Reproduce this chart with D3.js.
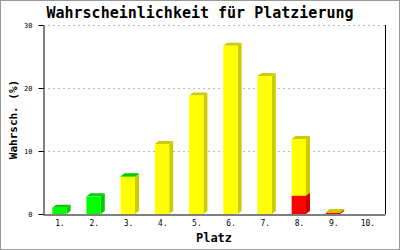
<!DOCTYPE html>
<html>
<head>
<meta charset="utf-8">
<script src="https://cdn.jsdelivr.net/npm/d3@7"></script>
<style>
  body { margin: 0; background: #fff; }
  svg { display: block; }
  .axis text { font-family: "DejaVu Sans Mono", monospace; fill: #000; }
</style>
</head>
<body>
<svg id="chart" width="400" height="250"></svg>
<script>
// places and stacked series (percent), bottom to top: red, yellow, green
var places = ["1.", "2.", "3.", "4.", "5.", "6.", "7.", "8.", "9.", "10."];
var red = [0, 0, 0, 0, 0, 0, 0, 2.9, 0.2, 0];
var yellow = [0, 0, 5.9, 11.1, 18.8, 26.7, 21.9, 9.0, 0.1, 0];
var green = [1.0, 2.8, 0.1, 0, 0, 0, 0, 0, 0, 0];
var yTicks = [0, 10, 20, 30];

var seriesNames = ["red", "yellow", "green"];
var seriesData = { red: red, yellow: yellow, green: green };
var front = { red: "#ff0000", yellow: "#ffff00", green: "#00ff00" };
var shade = { red: "#cc0000", yellow: "#cccc00", green: "#00cc00" };

var svg = d3.select("#chart");
var margin = { top: 25, right: 15, bottom: 36, left: 43 };
var width = 400 - margin.left - margin.right;
var height = 250 - margin.top - margin.bottom;

// outer frame
svg.append("rect")
  .attr("x", 0.5).attr("y", 0.5)
  .attr("width", 399).attr("height", 249)
  .attr("fill", "#fff")
  .attr("stroke", "#999");

var g = svg.append("g")
  .attr("transform", "translate(" + margin.left + "," + margin.top + ")");

var x = d3.scaleBand().domain(places).range([0, width]);
var y = d3.scaleLinear().domain([0, 30]).range([height, 0]);

// grid lines
g.append("g")
  .selectAll("line")
  .data(yTicks.slice(1))
  .enter()
  .append("line")
  .attr("x1", 0).attr("x2", width)
  .attr("y1", function (d) { return y(d) + 0.5; })
  .attr("y2", function (d) { return y(d) + 0.5; })
  .attr("stroke", "#bbb")
  .attr("stroke-dasharray", "2,3");

// stacked 3d bars
var table = places.map(function (p, i) {
  var row = { place: p };
  seriesNames.forEach(function (s) { row[s] = seriesData[s][i]; });
  return row;
});
var stack = d3.stack().keys(seriesNames)(table);

var dx = 4, dy = 3;
var bw = x.bandwidth() * 0.42;
var off = x.bandwidth() * 0.27;

stack.forEach(function (layer) {
  var key = layer.key;
  layer.forEach(function (seg, i) {
    if (seg[1] - seg[0] <= 0) return;
    var x0 = x(places[i]) + off;
    var yb = y(seg[0]);
    var yt = y(seg[1]);
    // side face
    g.append("path")
      .attr("d", "M" + (x0 + bw) + "," + yb + "L" + (x0 + bw + dx) + "," + (yb - dy) +
        "L" + (x0 + bw + dx) + "," + (yt - dy) + "L" + (x0 + bw) + "," + yt + "Z")
      .attr("fill", shade[key]);
    // top face
    g.append("path")
      .attr("d", "M" + x0 + "," + yt + "L" + (x0 + dx) + "," + (yt - dy) +
        "L" + (x0 + bw + dx) + "," + (yt - dy) + "L" + (x0 + bw) + "," + yt + "Z")
      .attr("fill", shade[key]);
    // front face
    g.append("rect")
      .attr("x", x0)
      .attr("y", yt)
      .attr("width", bw)
      .attr("height", Math.max(yb - yt, 0.6))
      .attr("fill", front[key]);
  });
});

// axes
var yAxis = g.append("g")
  .attr("class", "axis")
  .attr("transform", "translate(0.5,0)")
  .call(d3.axisLeft(y).tickValues(yTicks).tickSize(5).tickSizeOuter(0).tickPadding(6));
yAxis.selectAll("text").attr("font-size", "7px");
yAxis.select(".domain").attr("stroke", "#000");

var xAxis = g.append("g")
  .attr("class", "axis")
  .attr("transform", "translate(0," + (height + 0.5) + ")")
  .call(d3.axisBottom(x).tickSize(0).tickSizeOuter(0).tickPadding(6));
xAxis.selectAll("text").attr("font-size", "8px");

// right border of plot
g.append("line")
  .attr("x1", width + 0.5).attr("x2", width + 0.5)
  .attr("y1", 0).attr("y2", height)
  .attr("stroke", "#000");

// title and axis labels
svg.append("text")
  .attr("x", 200)
  .attr("y", 18)
  .attr("text-anchor", "middle")
  .attr("font-family", "DejaVu Sans Mono, monospace")
  .attr("font-weight", "bold")
  .attr("font-size", "15px")
  .text("Wahrscheinlichkeit für Platzierung");

svg.append("text")
  .attr("x", margin.left + width / 2)
  .attr("y", 242)
  .attr("text-anchor", "middle")
  .attr("font-family", "DejaVu Sans Mono, monospace")
  .attr("font-weight", "bold")
  .attr("font-size", "12px")
  .text("Platz");

svg.append("text")
  .attr("transform", "translate(16.5," + (margin.top + height / 2) + ") rotate(-90)")
  .attr("text-anchor", "middle")
  .attr("font-family", "DejaVu Sans Mono, monospace")
  .attr("font-weight", "bold")
  .attr("font-size", "11px")
  .text("Wahrsch. (%)");
</script>
</body>
</html>
